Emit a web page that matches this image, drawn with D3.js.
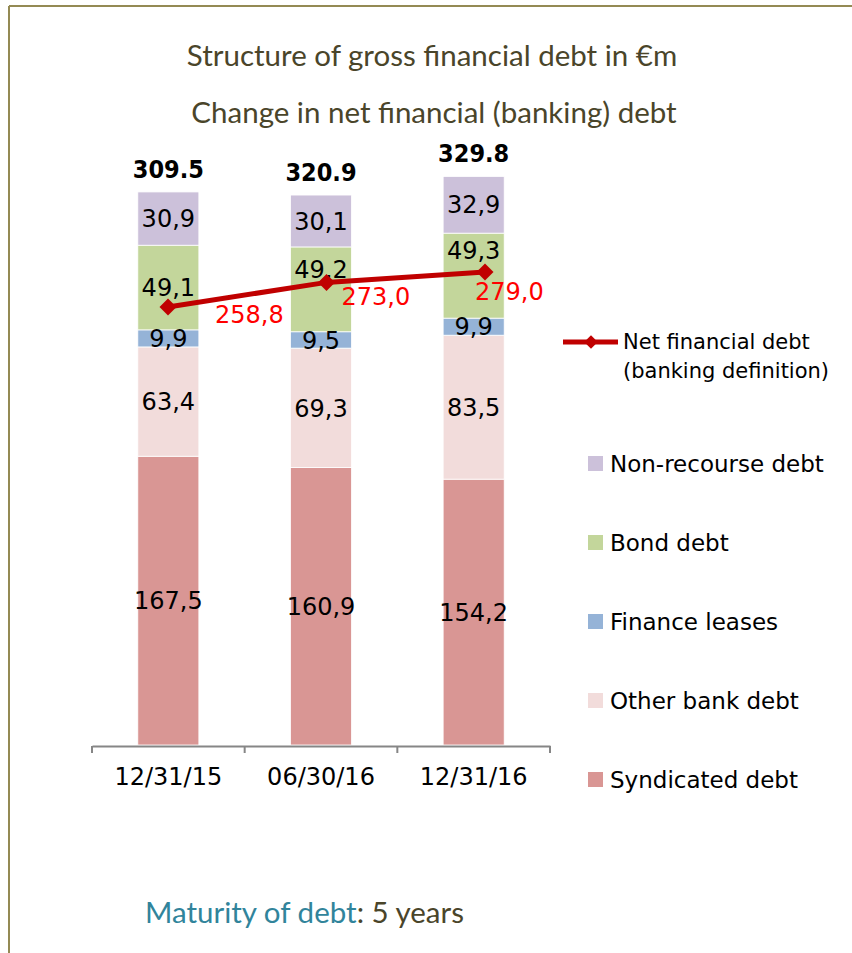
<!DOCTYPE html>
<html>
<head>
<meta charset="utf-8">
<script src="https://cdn.jsdelivr.net/npm/d3@7/dist/d3.min.js"></script>
<style>
  body { margin: 0; background: #fff; }
  svg { display: block; }
</style>
</head>
<body>
<div id="chart"></div>
<script>
// data
const dates = ["12/31/15", "06/30/16", "12/31/16"];
const seriesNames = ["Syndicated debt", "Other bank debt", "Finance leases", "Bond debt", "Non-recourse debt"];
const syndicated = [167.5, 160.9, 154.2];
const otherBank = [63.4, 69.3, 83.5];
const financeLeases = [9.9, 9.5, 9.9];
const bondDebt = [49.1, 49.2, 49.3];
const nonRecourse = [30.9, 30.1, 32.9];
const totals = [309.5, 320.9, 329.8];
const netDebt = [258.8, 273.0, 279.0];

// styles
const seriesColors = ["#d99694", "#f2dcdb", "#95b3d7", "#c3d69b", "#ccc1da"];
const lineColor = "#c00000";
const olive = "#4a452a";
const lineLabelOffsets = [[47, 16], [15, 23], [-10, 28]];
const bondLabelShift = [0, -20, -25];

const W = 852, H = 953;
const svg = d3.select("#chart").append("svg").attr("width", W).attr("height", H);

// frame
svg.append("line").attr("x1", 9).attr("x2", W).attr("y1", 6).attr("y2", 6)
  .attr("stroke", "#948a54").attr("stroke-width", 2);
svg.append("line").attr("x1", 9).attr("x2", 9).attr("y1", 6).attr("y2", H)
  .attr("stroke", "#948a54").attr("stroke-width", 2);

// titles
svg.append("text").attr("x", 432).attr("y", 66).attr("text-anchor", "middle")
  .attr("font-family", "Lato, sans-serif").attr("font-size", 29.5).attr("fill", olive)
  .text("Structure of gross financial debt in €m");
svg.append("text").attr("x", 434).attr("y", 123).attr("text-anchor", "middle")
  .attr("font-family", "Lato, sans-serif").attr("font-size", 29.5).attr("fill", olive)
  .text("Change in net financial (banking) debt");

// scales
const x = d3.scaleBand().domain(dates).range([92, 550]).paddingInner(0.6).paddingOuter(0.3);
const y = d3.scaleLinear().domain([0, 350]).range([745, 745 - 350 * 1.724]);
const xLine = d3.scalePoint().domain(dates).range([168, 485]);
const yLine = d3.scaleLinear().domain([0, 350]).range([755.5, 755.5 - 350 * 1.733]);

const rows = dates.map((d, i) => ({
  date: d,
  "Syndicated debt": syndicated[i],
  "Other bank debt": otherBank[i],
  "Finance leases": financeLeases[i],
  "Bond debt": bondDebt[i],
  "Non-recourse debt": nonRecourse[i]
}));
const stacked = d3.stack().keys(seriesNames)(rows);
const color = d3.scaleOrdinal().domain(seriesNames).range(seriesColors);
const fmtComma = v => v.toFixed(1).replace(".", ",");

// bars
const layers = svg.append("g").selectAll("g")
  .data(stacked).join("g").attr("fill", d => color(d.key));

layers.selectAll("rect")
  .data(d => d)
  .join("rect")
  .attr("x", d => x(d.data.date))
  .attr("width", x.bandwidth())
  .attr("y", d => y(d[1]))
  .attr("height", d => y(d[0]) - y(d[1]))
  .attr("stroke", "#fff").attr("stroke-width", 0.8);

// segment labels
stacked.forEach(layer => {
  svg.append("g").selectAll("text")
    .data(layer)
    .join("text")
    .attr("x", d => x(d.data.date) + x.bandwidth() / 2)
    .attr("y", (d, i) => (y(d[0]) + y(d[1])) / 2 + (layer.key === "Bond debt" ? bondLabelShift[i] : 0))
    .attr("dy", "0.36em")
    .attr("text-anchor", "middle")
    .attr("font-family", "DejaVu Sans, sans-serif")
    .attr("font-size", 24)
    .attr("fill", "#000")
    .text(d => fmtComma(d[1] - d[0]));
});

// totals above the bars
svg.append("g").selectAll("text")
  .data(totals)
  .join("text")
  .attr("x", (d, i) => x(dates[i]) + x.bandwidth() / 2)
  .attr("y", (d, i) => y(stacked[stacked.length - 1][i][1]) - 14)
  .attr("text-anchor", "middle")
  .attr("font-family", "DejaVu Sans Condensed, DejaVu Sans, sans-serif")
  .attr("font-weight", "bold")
  .attr("font-size", 25)
  .attr("fill", "#000")
  .text(d => d3.format(".1f")(d));

// axis
const axis = svg.append("g").attr("transform", "translate(0,746)")
  .call(d3.axisBottom(x).tickSize(0).tickSizeOuter(0).tickPadding(22));
axis.select(".domain").attr("stroke", "#868686").attr("stroke-width", 2);
axis.selectAll("text").attr("font-family", "DejaVu Sans, sans-serif").attr("font-size", 24).attr("fill", "#000");
axis.selectAll(".boundary")
  .data(d3.range(dates.length + 1))
  .join("line")
  .attr("class", "boundary")
  .attr("x1", i => x.range()[0] + i * x.step())
  .attr("x2", i => x.range()[0] + i * x.step())
  .attr("y1", 0).attr("y2", 7)
  .attr("stroke", "#868686").attr("stroke-width", 2);

// net financial debt line
const diamond = d3.symbol().type(d3.symbolSquare);
svg.append("path")
  .datum(netDebt)
  .attr("fill", "none")
  .attr("stroke", lineColor)
  .attr("stroke-width", 5)
  .attr("d", d3.line().x((d, i) => xLine(dates[i])).y(d => yLine(d)));

svg.append("g").selectAll("path")
  .data(netDebt)
  .join("path")
  .attr("transform", (d, i) => `translate(${xLine(dates[i])},${yLine(d)}) rotate(45)`)
  .attr("d", diamond.size(144)())
  .attr("fill", lineColor);

svg.append("g").selectAll("text")
  .data(netDebt)
  .join("text")
  .attr("x", (d, i) => xLine(dates[i]) + lineLabelOffsets[i][0])
  .attr("y", (d, i) => yLine(d) + lineLabelOffsets[i][1])
  .attr("font-family", "DejaVu Sans, sans-serif")
  .attr("font-size", 24)
  .attr("fill", "#ff0000")
  .text(d => fmtComma(d));

// legend: line
const lg = svg.append("g");
lg.append("line").attr("x1", 563).attr("x2", 618).attr("y1", 342).attr("y2", 342)
  .attr("stroke", lineColor).attr("stroke-width", 5);
lg.append("path").attr("transform", "translate(591,342) rotate(45)")
  .attr("d", diamond.size(90)()).attr("fill", lineColor);
lg.append("text").attr("x", 623).attr("y", 349)
  .attr("font-family", "DejaVu Sans, sans-serif").attr("font-size", 21).attr("fill", "#000")
  .text("Net financial debt");
lg.append("text").attr("x", 623).attr("y", 378)
  .attr("font-family", "DejaVu Sans, sans-serif").attr("font-size", 21).attr("fill", "#000")
  .text("(banking definition)");

// legend: series (top to bottom, reverse of stack order)
const legendItems = seriesNames.slice().reverse();
const items = svg.append("g").selectAll("g")
  .data(legendItems)
  .join("g")
  .attr("transform", (d, i) => `translate(588,${472 + i * 79})`);
items.append("rect").attr("x", 0).attr("y", -16).attr("width", 15).attr("height", 15)
  .attr("fill", d => color(d));
items.append("text").attr("x", 22).attr("y", 0)
  .attr("font-family", "DejaVu Sans, sans-serif").attr("font-size", 23).attr("fill", "#000")
  .text(d => d);

// maturity note
const note = svg.append("text").attr("x", 145).attr("y", 923)
  .attr("font-family", "Lato, sans-serif").attr("font-size", 29.5);
note.append("tspan").attr("fill", "#31849b").text("Maturity of debt");
note.append("tspan").attr("fill", olive).text(": 5 years");
</script>
</body>
</html>
